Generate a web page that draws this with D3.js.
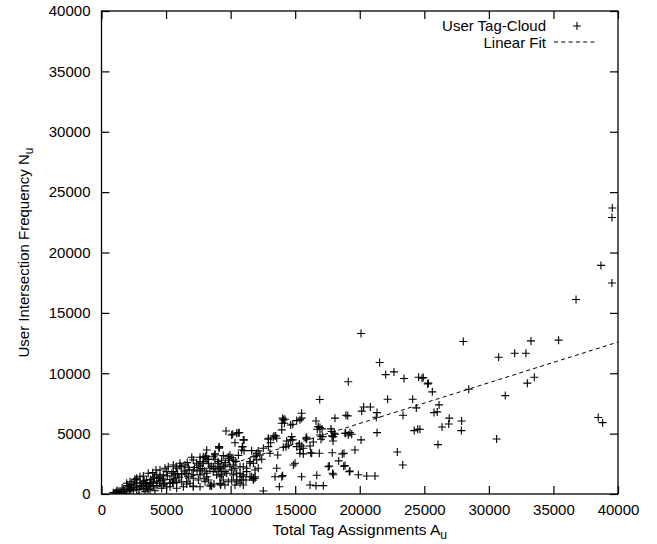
<!DOCTYPE html>
<html>
<head>
<meta charset="utf-8">
<script src="https://cdn.jsdelivr.net/npm/d3@7"></script>
<style>
body { margin: 0; background: #fff; }
text { font-family: "Liberation Sans", Arial, Helvetica, sans-serif; }
</style>
</head>
<body>
<div class="graph"></div>
<script>
//ticks//
let xTicks = [0, 5000, 10000, 15000, 20000, 25000, 30000, 35000, 40000];
let yTicks = [0, 5000, 10000, 15000, 20000, 25000, 30000, 35000, 40000];

//legend entries//
let legendLabels = ['User Tag-Cloud', 'Linear Fit'];

//fit y = a*x + b//
let fitSlope = 0.337;
let fitIntercept = -896;

//users: [total tag assignments A_u, intersection frequency N_u]//
let tagCloud = [
  [39560,23680],[39530,22900],[38680,18930],[39530,17470],[36750,16110],[35400,12740],
  [33260,12680],[28020,12630],[30760,11330],[32000,11660],[32870,11660],[33520,9670],[32980,9180],
  [28440,8680],[31270,8150],[30600,4560],[38470,6330],[38810,5910],
  [24920,9640],[25310,9180],[25620,8460],[26140,7380],[25750,6740],[26000,6800],[26930,6280],
  [26890,5800],[26370,5550],[27890,6050],[27870,5250],[26060,4090],[24660,5360],
  [20100,13290],[21540,10890],[22010,9890],[22650,10110],[23430,9560],[24560,9670],[24820,9590],
  [25260,9120],[19110,9290],[16900,7820],[22160,7850],[24100,7850],[24380,7130],[20300,7210],
  [20820,7210],[20150,6860],[21340,6740],[21280,6360],[23350,6520],[18930,6520],[19070,6470],
  [18080,6280],[15500,6690],[15500,6280],[15370,6140],[16610,6050],[16920,5500],[17080,5390],
  [16710,5360],[17770,5390],[18030,5030],[18910,5030],[19380,4950],[15890,4700],[16400,4310],
  [17000,4540],[17850,4810],[17930,4390],[20100,4480],[21340,5080],[24220,5250],[24490,5360],
  [15500,3980],[15370,3370],[15630,3320],[16200,3420],[17870,3420],[18650,3320],[19630,3650],
  [22910,3480],[23330,2400],[18370,2740],[17560,2260],[18760,2300],[19190,1850],[17950,1600],
  [16670,1550],[15500,1430],[19890,1600],[20540,1490],[21180,1490],[16150,750],[16610,690],[17180,690],
  [16790,5580],[16920,4890],[17130,4750],[18080,4950],[19110,4890],[15840,4620],[14730,4750],
  [14810,4480],[15320,4150],[15630,3790],[16150,3980],[16280,3370],[16870,3370],[18780,3370],
  [14080,3870],[14290,3920],[12920,4620],[13300,4700],[13490,4810],[12920,3920],[12530,3790],
  [12020,3370],[12270,3230],[14990,2550],[14860,2400],[17640,2320],[18860,2350],[19240,1910],
  [13570,2130],[14030,1520],[17900,1720],[13770,600],[12530,250],[11810,3090],[11760,2550],
  [11500,2550],[11890,1990],[11890,1300],[11630,1430],[14030,6280],[14160,5860],[14650,5720],
  [17830,5170],[17950,4750],[19240,5080],[18860,5030],
  [9640,5220],[10160,4950],[10590,5080],[10340,4250],[10980,4480],[10900,3920],[10860,3650],
  [9100,3790],[8790,3230],[9430,3180],[9820,2960],[8020,3010],[8190,2880],[11630,3590],
  [12140,3570],[12410,2880],[11960,3150],[13050,3370],[13650,3230],[12920,4540],[13360,4810],
  [13570,4620],[13100,4250],[14080,6140],[13960,5860],[14210,6190],[13960,5310],[14810,5780],
  [15120,6080],[14340,4390],[14650,4480],[14470,4060],[15120,3920],[15370,3710],[15890,4540],
  [13440,1430],[13960,1430],[11500,1430],[11760,1300],[10980,2260],[11240,2130],[10470,1720],
  [10860,1160],[8530,660],[9180,890],[9950,3230],[10210,2820],[10730,1720],[10980,1430],
  [10080,1160],[10470,1020],[8020,1020],[8150,1430],[9310,1580],[9560,1850],[11500,2680],
  [12020,2820],[12140,2130],
  [1050,110],[1430,190],[1820,60],[2210,330],[2730,1220],[3240,890],[3620,600],[3890,940],
  [4400,1300],[4790,1580],[5560,1850],[6080,2320],[6210,2260],[6990,3040],[7630,2320],[7880,2680],
  [8090,3090],[8270,2880],[9120,3870],[8660,2260],[9180,2130],[9430,2260],[8400,660],[9230,750],
  [7110,660],[6600,830],[5310,600],[5560,890],[11240,1850],[11760,1300],[10730,890],[10980,1580],
  [10080,4890],[10470,5030],[10670,5080],[11040,4480],[10930,3920],[11040,3590],[9100,3920],
  [7630,2680],[7880,2550],[8790,3320],[9820,3090],[6080,2550],[5820,2130],[6720,2210],[7110,1990],
  [5050,1850],[5440,1720],[5690,1580],[4280,1580],[4530,1430],[4010,1300],[4790,1160],[3240,1020],
  [3500,1160],[3760,940],[2980,890],[2460,750],[2730,660],[2080,600],[2340,470],[1690,390],
  [1180,190],[910,110],[6470,1720],[6720,1430],[7110,1300],[7500,1160],[7630,1990],[8400,2130],
  [8150,1720],[8660,1850],[8920,1580],[9180,1430],[9430,1160],[9560,750],[9820,1020],[10210,1580],
  [10470,1160],[10340,750],[10730,1430],[10980,750],[11190,1160],[11760,1160],[11890,1430],
  [8460,750],[8710,830],[9230,830],[7110,600],[7630,600],[6340,600],[5820,470],[5050,600],
  [4660,470],[3760,330],[4140,270],[3370,190],
  [7110,2820],[6470,2400],[6640,2600],[5560,2400],[5770,2260],[4920,2130],[5170,2260],[4220,1990],
  [4530,1990],[3620,1720],[3970,1770],[2980,1430],[3240,1490],[2590,1220],[2730,1300],[2210,1020],
  [1950,890],[7630,3040],[8150,3650],[8660,3090],[8790,2880],[9040,2680],[9180,2260],[9560,2400],
  [9950,2260],[10210,2400],[10340,2130],[10730,2260],[9040,1990],[9310,1850],[9700,1720],
  [10080,1990],[7630,1580],[7940,1300],[8270,1160],[6600,1020],[6850,890],[6210,1020],[5560,1160],
  [5820,940],[5310,890],[4530,890],[4790,750],[4280,1020],[3760,750],[4010,600],[3500,600],
  [2980,600],[3240,470],[2730,390],[2210,330],[2460,270],[1950,190],[1300,110],[1560,60],
  [7370,2550],[7880,3090],[8090,3150],[2590,1160],
  [1200,300],[1600,500],[1800,250],[2000,700],[2300,800],[2500,550],[2700,900],[2900,350],
  [3100,700],[3300,1100],[3400,850],[3600,400],[3800,1200],[4000,900],[4100,1400],[4300,700],
  [4500,1100],[4700,1300],[4900,900],[5100,1500],[5300,1200],[5500,1000],[5700,1300],[5900,1700],
  [6000,1400],[6200,1600],[6400,1900],[6600,1700],[6800,2000],[7000,1600],[7200,2200],[7400,1900],
  [7500,2400],[7800,2100],[8000,1900],[8300,2500],[8500,2300],[8800,2100],[9000,2500],[9300,2800],
  [9600,2600],[9900,2800],[10100,3000],[10400,2700],[10600,3200]
];

//layout//
let w = 657;
let h = 544;
let plotLeft = 101.5, plotRight = 618, plotTop = 11, plotBottom = 494;
let fontSize = 15;

let svg = d3.select('.graph')
    .append('svg')
    .attr('width', w)
    .attr('height', h)
    .style('display', 'block');

let xScale = d3.scaleLinear().domain([0, 40000]).range([plotLeft, plotRight]);
let yScale = d3.scaleLinear().domain([0, 40000]).range([plotBottom, plotTop]);

svg.append('clipPath')
    .attr('id', 'plot-clip')
    .append('rect')
    .attr('x', plotLeft)
    .attr('y', plotTop)
    .attr('width', plotRight - plotLeft)
    .attr('height', plotBottom - plotTop);

//axes, gnuplot style: inward ticks, mirrored//
function styleAxis(g) {
    g.select('.domain').remove();
    g.selectAll('.tick line').attr('stroke', '#000').attr('stroke-width', 1.2);
    g.selectAll('text')
        .attr('font-size', fontSize)
        .attr('font-family', '"Liberation Sans", Arial, Helvetica, sans-serif')
        .attr('fill', '#000');
}

svg.append('g')
    .attr('transform', 'translate(0,' + plotBottom + ')')
    .call(d3.axisBottom(xScale).tickValues(xTicks).tickSize(-8).tickPadding(10).tickFormat(d3.format('d')))
    .call(styleAxis);

svg.append('g')
    .attr('transform', 'translate(' + plotLeft + ',0)')
    .call(d3.axisLeft(yScale).tickValues(yTicks).tickSize(-8).tickPadding(11).tickFormat(d3.format('d')))
    .call(styleAxis);

svg.append('g')
    .attr('transform', 'translate(0,' + plotTop + ')')
    .call(d3.axisTop(xScale).tickValues(xTicks).tickSize(-8).tickFormat(''))
    .call(styleAxis);

svg.append('g')
    .attr('transform', 'translate(' + plotRight + ',0)')
    .call(d3.axisRight(yScale).tickValues(yTicks).tickSize(-8).tickFormat(''))
    .call(styleAxis);

svg.append('rect')
    .attr('x', plotLeft)
    .attr('y', plotTop)
    .attr('width', plotRight - plotLeft)
    .attr('height', plotBottom - plotTop)
    .attr('fill', 'none')
    .attr('stroke', '#000')
    .attr('stroke-width', 1.3);

//points//
let plus = 4;
let pts = svg.append('g').attr('clip-path', 'url(#plot-clip)');

pts.selectAll('path.pt')
    .data(tagCloud)
    .enter()
    .append('path')
    .attr('class', 'pt')
    .attr('d', d => {
        let x = xScale(d[0]), y = yScale(d[1]);
        return 'M' + (x - plus) + ',' + y + 'H' + (x + plus) + 'M' + x + ',' + (y - plus) + 'V' + (y + plus);
    })
    .attr('stroke', '#000')
    .attr('stroke-width', 1.1)
    .attr('fill', 'none');

//fit line//
let fitLine = d3.line()
    .x(d => xScale(d))
    .y(d => yScale(fitSlope * d + fitIntercept));

pts.append('path')
    .datum([0, 40000])
    .attr('d', fitLine)
    .attr('fill', 'none')
    .attr('stroke', '#000')
    .attr('stroke-width', 1)
    .attr('stroke-dasharray', '4,3.3');

//legend//
let legend = svg.append('g').attr('font-size', fontSize);

legend.selectAll('text')
    .data(legendLabels)
    .enter()
    .append('text')
    .attr('x', 546)
    .attr('y', (d, i) => 31 + i * 16.5)
    .attr('text-anchor', 'end')
    .text(d => d);

legend.append('path')
    .attr('d', 'M573,26H581M577,22V30')
    .attr('stroke', '#000')
    .attr('stroke-width', 1.1);

legend.append('line')
    .attr('x1', 554)
    .attr('x2', 598)
    .attr('y1', 42)
    .attr('y2', 42)
    .attr('stroke', '#000')
    .attr('stroke-width', 1)
    .attr('stroke-dasharray', '4,3.3');

//axis titles//
let xTitle = svg.append('text')
    .attr('x', (plotLeft + plotRight) / 2)
    .attr('y', 535)
    .attr('text-anchor', 'middle')
    .attr('font-size', 15.5)
    .text('Total Tag Assignments A');
xTitle.append('tspan')
    .attr('dy', 4)
    .attr('font-size', 12)
    .text('u');

let yTitle = svg.append('text')
    .attr('transform', 'translate(29,' + ((plotTop + plotBottom) / 2) + ') rotate(-90)')
    .attr('text-anchor', 'middle')
    .attr('font-size', fontSize)
    .text('User Intersection Frequency N');
yTitle.append('tspan')
    .attr('dy', 4)
    .attr('font-size', 12)
    .text('u');
</script>
</body>
</html>
